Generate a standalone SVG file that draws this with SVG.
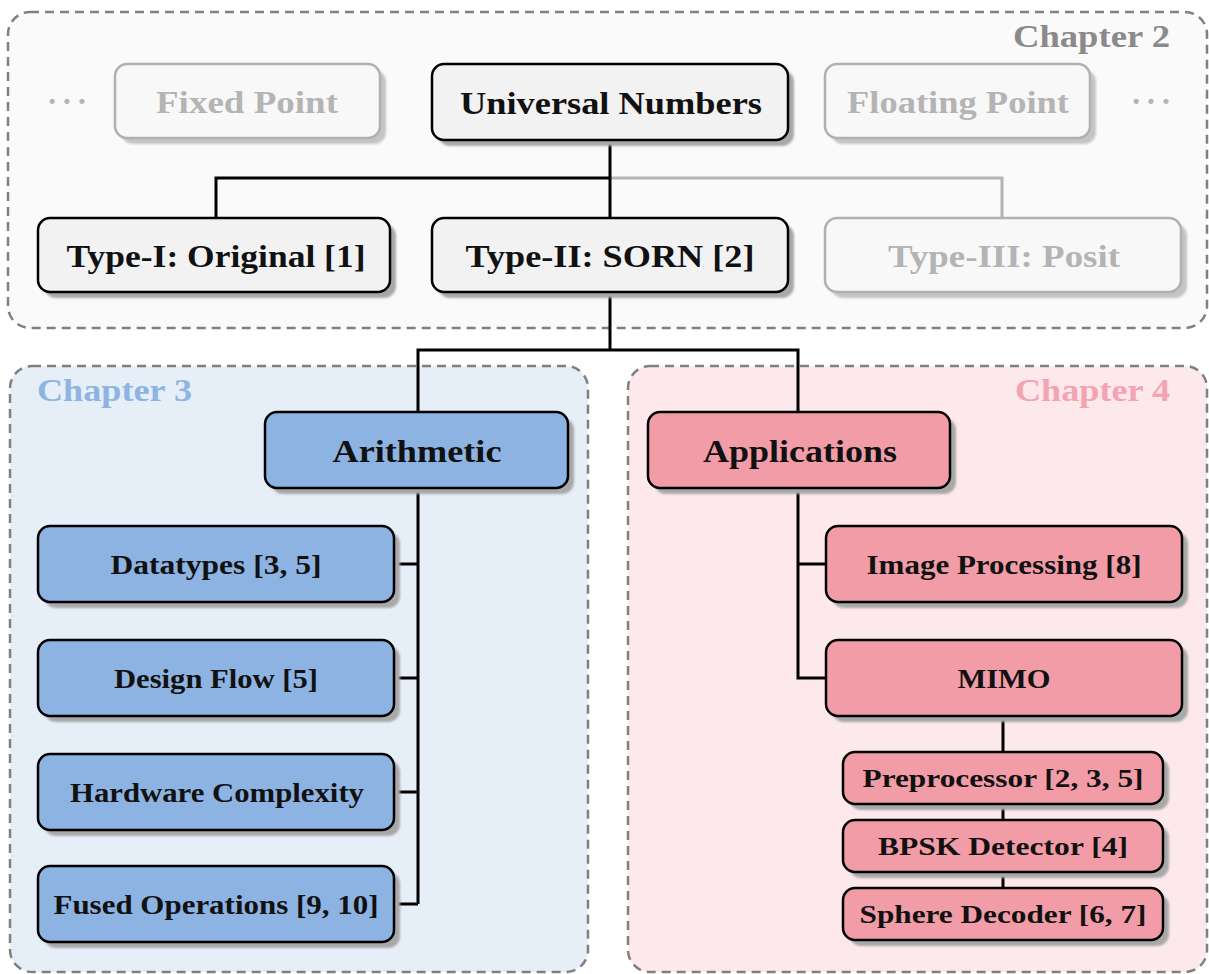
<svg xmlns="http://www.w3.org/2000/svg" width="1209" height="974" viewBox="0 0 1209 974">
<defs>
<filter id="blur" x="-5%" y="-5%" width="110%" height="110%"><feGaussianBlur stdDeviation="1"/></filter>
<style>
.ch{stroke:#808080;stroke-width:2.5;stroke-dasharray:9 6}
.t{font-family:"Liberation Serif","Times New Roman",serif;font-weight:bold;text-anchor:middle}
.big{font-size:31px}
.sm{font-size:27px}
.xs{font-size:25px}
.sh{fill:#a8a8a8;filter:url(#blur)}
.shg{fill:#c4c4c4;filter:url(#blur)}
.g{fill:#f8f8f8;stroke:#b0b0b0;stroke-width:2.5}
.w{fill:#f2f2f2;stroke:#000;stroke-width:2.5}
.b{fill:#8db3e2;stroke:#000;stroke-width:2.5}
.p{fill:#f29ca8;stroke:#000;stroke-width:2.5}
.k{fill:#111}
.gt{fill:#b4b4b4}
.c{fill:none;stroke:#000;stroke-width:3}
.cg{fill:none;stroke:#b4b4b4;stroke-width:3}
</style>
</defs>
<g id="chapter2">
<rect x="8" y="12" width="1199" height="316" rx="22" fill="#fafafa" class="ch"/>
<text class="t big" x="1170" y="47" style="text-anchor:end" fill="#8a8a8a" textLength="157" lengthAdjust="spacingAndGlyphs">Chapter 2</text>
<text class="t big gt" x="67" y="112" textLength="40" lengthAdjust="spacing">· · ·</text>
<text class="t big gt" x="1151" y="112" textLength="40" lengthAdjust="spacing">· · ·</text>
</g>
<g id="chapter3">
<rect x="10" y="366" width="578" height="606" rx="22" fill="#e6eef8" class="ch"/>
<text class="t big" x="37" y="401" style="text-anchor:start" fill="#8db4e2" textLength="155" lengthAdjust="spacingAndGlyphs">Chapter 3</text>
</g>
<g id="chapter4">
<rect x="628" y="366" width="579" height="606" rx="22" fill="#fde8ec" class="ch"/>
<text class="t big" x="1170" y="401" style="text-anchor:end" fill="#f4a3b1" textLength="155" lengthAdjust="spacingAndGlyphs">Chapter 4</text>
</g>
<g id="connectors">
<path class="cg" d="M610 178 H1002 V218"/>
<path class="c" d="M610 140 V218 M610 178 H216 V218"/>
<path class="c" d="M610 292 V350 M418 412 V350 H798 V412"/>
<path class="c" d="M418 488 V904 M394 564 H418 M394 678 H418 M394 792 H418 M394 904 H418"/>
<path class="c" d="M798 488 V678 H826 M798 564 H826"/>
<path class="c" d="M1003 716 V888"/>
</g>
<g id="fixed-point">
<rect class="shg" x="121" y="70" width="265" height="74" rx="12"/>
<rect class="g" x="115" y="64" width="265" height="74" rx="12"/>
<text class="t big gt" x="247" y="113" textLength="182" lengthAdjust="spacingAndGlyphs">Fixed Point</text>
</g>
<g id="universal-numbers">
<rect class="sh" x="438" y="70" width="356" height="76" rx="12"/>
<rect class="w" x="432" y="64" width="356" height="76" rx="12"/>
<text class="t big k" x="611" y="114" textLength="302" lengthAdjust="spacingAndGlyphs">Universal Numbers</text>
</g>
<g id="floating-point">
<rect class="shg" x="831" y="70" width="265" height="74" rx="12"/>
<rect class="g" x="825" y="64" width="265" height="74" rx="12"/>
<text class="t big gt" x="958" y="113" textLength="222" lengthAdjust="spacingAndGlyphs">Floating Point</text>
</g>
<g id="type-i">
<rect class="sh" x="44" y="224" width="352" height="74" rx="12"/>
<rect class="w" x="38" y="218" width="352" height="74" rx="12"/>
<text class="t big k" x="216" y="267" textLength="299" lengthAdjust="spacingAndGlyphs">Type-I: Original [1]</text>
</g>
<g id="type-ii">
<rect class="sh" x="438" y="224" width="356" height="74" rx="12"/>
<rect class="w" x="432" y="218" width="356" height="74" rx="12"/>
<text class="t big k" x="610" y="267" textLength="289" lengthAdjust="spacingAndGlyphs">Type-II: SORN [2]</text>
</g>
<g id="type-iii">
<rect class="shg" x="831" y="224" width="356" height="74" rx="12"/>
<rect class="g" x="825" y="218" width="356" height="74" rx="12"/>
<text class="t big gt" x="1004" y="267" textLength="232" lengthAdjust="spacingAndGlyphs">Type-III: Posit</text>
</g>
<g id="arithmetic">
<rect class="sh" x="271" y="418" width="303" height="76" rx="12"/>
<rect class="b" x="265" y="412" width="303" height="76" rx="12"/>
<text class="t big k" x="417" y="462" textLength="169" lengthAdjust="spacingAndGlyphs">Arithmetic</text>
</g>
<g id="applications">
<rect class="sh" x="654" y="418" width="302" height="76" rx="12"/>
<rect class="p" x="648" y="412" width="302" height="76" rx="12"/>
<text class="t big k" x="800" y="462" textLength="194" lengthAdjust="spacingAndGlyphs">Applications</text>
</g>
<g id="datatypes">
<rect class="sh" x="44" y="532" width="356" height="76" rx="12"/>
<rect class="b" x="38" y="526" width="356" height="76" rx="12"/>
<text class="t sm k" x="216" y="574" textLength="211" lengthAdjust="spacingAndGlyphs">Datatypes [3, 5]</text>
</g>
<g id="design-flow">
<rect class="sh" x="44" y="646" width="356" height="76" rx="12"/>
<rect class="b" x="38" y="640" width="356" height="76" rx="12"/>
<text class="t sm k" x="216" y="688" textLength="204" lengthAdjust="spacingAndGlyphs">Design Flow [5]</text>
</g>
<g id="hardware-complexity">
<rect class="sh" x="44" y="760" width="356" height="76" rx="12"/>
<rect class="b" x="38" y="754" width="356" height="76" rx="12"/>
<text class="t sm k" x="217" y="802" textLength="294" lengthAdjust="spacingAndGlyphs">Hardware Complexity</text>
</g>
<g id="fused-operations">
<rect class="sh" x="44" y="872" width="356" height="76" rx="12"/>
<rect class="b" x="38" y="866" width="356" height="76" rx="12"/>
<text class="t sm k" x="216" y="914" textLength="325" lengthAdjust="spacingAndGlyphs">Fused Operations [9, 10]</text>
</g>
<g id="image-processing">
<rect class="sh" x="832" y="532" width="356" height="76" rx="12"/>
<rect class="p" x="826" y="526" width="356" height="76" rx="12"/>
<text class="t sm k" x="1004" y="574" textLength="275" lengthAdjust="spacingAndGlyphs">Image Processing [8]</text>
</g>
<g id="mimo">
<rect class="sh" x="832" y="646" width="356" height="76" rx="12"/>
<rect class="p" x="826" y="640" width="356" height="76" rx="12"/>
<text class="t sm k" x="1004" y="688" textLength="93" lengthAdjust="spacingAndGlyphs">MIMO</text>
</g>
<g id="preprocessor">
<rect class="sh" x="849" y="758" width="320" height="52" rx="12"/>
<rect class="p" x="843" y="752" width="320" height="52" rx="12"/>
<text class="t xs k" x="1003" y="787" textLength="281" lengthAdjust="spacingAndGlyphs">Preprocessor [2, 3, 5]</text>
</g>
<g id="bpsk-detector">
<rect class="sh" x="849" y="826" width="320" height="52" rx="12"/>
<rect class="p" x="843" y="820" width="320" height="52" rx="12"/>
<text class="t xs k" x="1003" y="855" textLength="250" lengthAdjust="spacingAndGlyphs">BPSK Detector [4]</text>
</g>
<g id="sphere-decoder">
<rect class="sh" x="849" y="894" width="320" height="52" rx="12"/>
<rect class="p" x="843" y="888" width="320" height="52" rx="12"/>
<text class="t xs k" x="1003" y="923" textLength="287" lengthAdjust="spacingAndGlyphs">Sphere Decoder [6, 7]</text>
</g>
</svg>
